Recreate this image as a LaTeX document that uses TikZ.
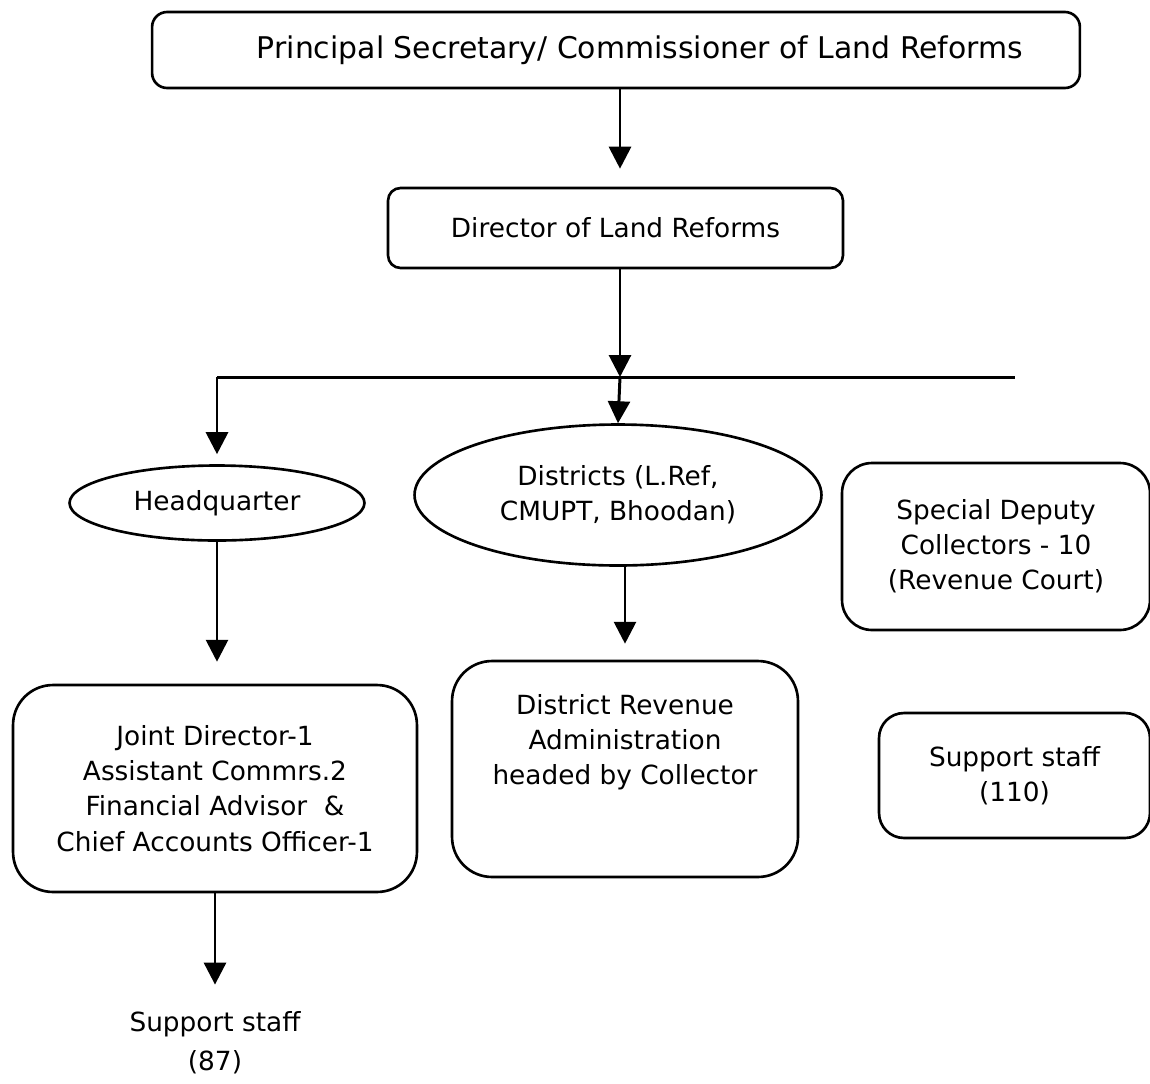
\documentclass[tikz,border=0pt]{standalone}
\usepackage{fontspec}
\setmainfont{DejaVu Sans}
\usetikzlibrary{arrows.meta, shapes.geometric}

\begin{document}
\begin{tikzpicture}[%
        x = 0.02cm,
        y = -0.02cm,
        line width = 1.7pt,
        > = {Triangle[length=12.5pt, width=12.5pt]},
        every node/.style = {font=\fontsize{15}{20}\selectfont, align=center},
        box/.style = {draw, rectangle, inner sep=0pt, line width=1.5pt},
        oval/.style = {draw, ellipse, inner sep=0pt, line width=1.5pt}
    ]

        \useasboundingbox (0, 0) rectangle (1150, 1083);

        % Upper two levels of the chart.
        \node[box, rounded corners=0.3cm, minimum width=18.56cm, minimum height=1.52cm,
              font=\fontsize{17}{22}\selectfont] (psec) at (616, 50)
              {\hspace*{0.96cm}Principal Secretary/ Commissioner of Land Reforms};
        \node[box, rounded corners=0.25cm, minimum width=9.1cm, minimum height=1.6cm]
              (dir) at (615.5, 228) {Director of Land Reforms};

        % Branches below the director.
        \node[oval, minimum width=5.9cm, minimum height=1.5cm] (hq) at (217, 503) {Headquarter};
        \node[oval, minimum width=8.14cm, minimum height=2.82cm] (dist) at (618, 495)
              {Districts (L.Ref,\\CMUPT, Bhoodan)};
        \node[box, rounded corners=0.6cm, minimum width=6.16cm, minimum height=3.34cm]
              (sdc) at (996, 546.5) {Special Deputy\\Collectors - 10\\(Revenue Court)};

        % Offices at the lower level.
        \node[box, rounded corners=0.8cm, minimum width=8.08cm, minimum height=4.14cm]
              (joint) at (215, 788.5)
              {Joint Director-1\\Assistant Commrs.2\\Financial Advisor\ \ \&\\Chief Accounts Officer-1};
        \node[box, rounded corners=0.8cm, minimum width=6.92cm, minimum height=4.32cm]
              (drev) at (625, 769) {};
        \node (drevtext) at (625, 742) {District Revenue\\Administration\\headed by Collector};
        \node[box, rounded corners=0.5cm, minimum width=5.42cm, minimum height=2.5cm]
              (staff) at (1014.5, 775.5) {Support staff\\(110)};
        \node[font=\fontsize{15}{22}\selectfont] (staffhq) at (215, 1043) {Support staff\\(87)};

        % Connectors between the levels.
        \coordinate (split) at (620, 377);
        \coordinate (leftend) at (217, 377);
        \coordinate (rightend) at (1015, 377);

        \draw[->, shorten >=0.36cm] (psec.south -| split) to (dir.north -| split);
        \draw[->] (dir.south -| split) to (split);
        \draw (leftend) to (rightend);
        \draw[->, shorten >=0.2cm] (leftend) to (hq.north -| leftend);
        \draw[->] (split) to (dist.north);
        \draw[->, shorten >=0.44cm] (hq.south) to (hq.south |- joint.north);
        \draw[->, shorten >=0.32cm] (dist.south -| drev.north) to (drev.north);
        \draw[->, shorten >=0.4cm] (joint.south) to (staffhq.north);
    \end{tikzpicture}
\end{document}
